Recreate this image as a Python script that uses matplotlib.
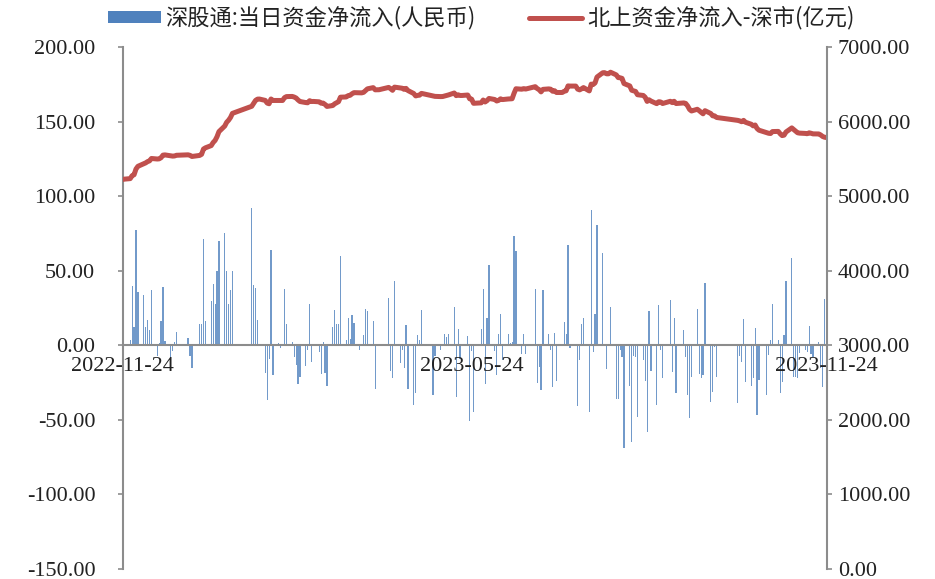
import numpy as np
import pandas as pd
import matplotlib
matplotlib.use('Agg')
import matplotlib.pyplot as plt
import matplotlib.dates as mdates
from matplotlib.patches import Patch
from matplotlib.lines import Line2D

# weekdays from 2022-11-24 to 2023-11-24, None = market closed
flow = [
    16, 1,
    3.8, 40, 12, 77, 36,
    34, 12, 17, 10, 37,
    -7, 1.5, 16, 39, 3,
    -12, -4, 2, 9, 1,
    None, None, 5, -7, -15,
    None, 14.5, 14.5, 71, 16,
    30, 41, 28, 50, 70,
    75, 50, 27.5, 37, 50,
    None, None, None, None, None,
    92, 40.7, 38.7, 17, 1,
    -18.5, -36.4, -9.4, 64, -20,
    1.3, -1.6, 0.5, 38, 14,
    2, -8, -13, -26, -21,
    -14, -3, 28, -11, 1,
    -4.7, -19, 2, -18.5, -27,
    12, 23.5, 14.5, 14.5, 60,
    3.4, 18, 4, 20.6, 14.8,
    -3.4, 0.5, 6.7, 24, 23,
    16.3, -29, None, 1, None,
    None, 31.5, -17, -21.7, 43,
    -12, -3, -15, 13.4, -29,
    -40, -32, 6.7, 3.4, 23.5,
    None, None, None, -33.5, -7.4,
    -3, 1, 7.4, 5.6, 7.8,
    25.7, -35, 11, -9, 0.5,
    6.5, -51, -4, -45, None,
    11, 38, -25.7, 18, 54,
    -4, -20, 7.8, 20.8, -10,
    7.8, 1.5, 2, 73, 63,
    -5.6, 7.8, -5.6, None, None,
    38, -25, -14.5, -30, 37,
    7.8, -3.4, -28, 8.3, -24,
    0.5, 15.6, 7.4, 67, -1.6,
    0.5, -41, -9.6, 14, 18.6,
    -45, 91, -4.5, 21, 80.5,
    62, 1, -16, 1, 26,
    -36, -36, -3, -8, -69,
    -27, -65, -7.4, -7.8, -48,
    -10, -24, -58, 23, -17,
    -40, 27, -3, -21.7, None,
    30.6, -18, 18, -32, None,
    10, -8, -33.5, -49, -21,
    24.6, -19, -21.7, -20, 41.8,
    -38, -31, -1, -21, None,
    None, None, None, None, None,
    -38.7, -7.4, -11, 17.7, -24.6,
    -27.5, -21.7, 11.8, -47, -23,
    None, -33.5, -6.7, 3.8, 27.5,
    3.8, -32, -24.6, 6.7, 43,
    58.8, -21, -21, -22, -5,
    -3, -4.5, 12.7, -5.6, -7.8,
    2.2, -15, -28, 31, -2,
]

north_cum = [
    5223, 5228,
    5235, 5275, 5287, 5364, 5400,
    5434, 5446, 5463, 5473, 5505,
    5498, 5500, 5516, 5550, 5553,
    5541, 5537, 5539, 5548, 5549,
    None, None, 5554, 5547, 5532,
    None, 5546, 5561, 5632, 5648,
    5678, 5719, 5747, 5797, 5865,
    5940, 5990, 6018, 6055, 6110,
    None, None, None, None, None,
    6205, 6245, 6284, 6301, 6302,
    6284, 6248, 6239, 6303, 6283,
    6284, 6283, 6283, 6321, 6335,
    6337, 6329, 6316, 6290, 6269,
    6255, 6252, 6280, 6269, 6270,
    6265, 6246, 6248, 6230, 6203,
    6215, 6238, 6253, 6267, 6327,
    6330, 6348, 6352, 6373, 6388,
    6385, 6385, 6392, 6416, 6439,
    6455, 6426, None, 6427, None,
    None, 6458, 6441, 6419, 6462,
    6450, 6447, 6432, 6445, 6416,
    6376, 6344, 6351, 6354, 6378,
    None, None, None, 6345, 6338,
    6335, 6336, 6343, 6349, 6357,
    6383, 6348, 6359, 6350, 6350,
    6356, 6305, 6301, 6245, None,
    6251, 6289, 6263, 6281, 6310,
    6296, 6276, 6284, 6305, 6295,
    6303, 6304, 6306, 6379, 6440,
    6434, 6442, 6436, None, None,
    6468, 6443, 6428, 6398, 6432,
    6438, 6434, 6406, 6414, 6390,
    6390, 6406, 6413, 6478, 6476,
    6476, 6435, 6425, 6439, 6456,
    6411, 6502, 6497, 6518, 6597,
    6655, 6656, 6640, 6641, 6662,
    6626, 6590, 6587, 6579, 6510,
    6478, 6420, 6412, 6404, 6360,
    6350, 6326, 6270, 6292, 6275,
    6240, 6266, 6263, 6242, None,
    6272, 6254, 6272, 6242, None,
    6250, 6243, 6210, 6163, 6142,
    6165, 6146, 6124, 6104, 6146,
    6108, 6077, 6076, 6055, None,
    None, None, None, None, None,
    6016, 6009, 5998, 6016, 5991,
    5964, 5942, 5954, 5907, 5884,
    None, 5850, 5843, 5840, 5866,
    5868, 5836, 5812, 5818, 5860,
    5915, 5893, 5872, 5850, 5845,
    5841, 5837, 5849, 5843, 5835,
    5834, 5820, 5800, 5790, 5786,
]

tick_dates = ['2022-11-24', '2023-05-24', '2023-11-24']
legend_labels = ['深股通:当日资金净流入(人民币)', '北上资金净流入-深市(亿元)']

BLUE = '#4F81BD'
RED = '#C0504D'
GRAY = '#8C8C8C'

days = pd.bdate_range('2022-11-24', '2023-11-24')
bars = pd.Series(flow, index=days, dtype=float).dropna()
line = pd.Series(north_cum, index=days, dtype=float).dropna()

fig = plt.figure(figsize=(9.35, 5.79), dpi=100)
ax = fig.add_axes([122.5 / 935, 1 - 569 / 579, 704 / 935, 522 / 579])
ax2 = ax.twinx()

ax.bar(bars.index, bars.values, width=0.6, color=BLUE, alpha=0.8, linewidth=0)
ax2.plot(line.index, line.values, color=RED, lw=3.6,
         solid_joinstyle='round', solid_capstyle='round')

ax.set_xlim(pd.Timestamp('2022-11-24'), pd.Timestamp('2023-11-24'))
ax.set_ylim(-150, 200)
ax2.set_ylim(0, 7000)
ax.set_yticks(np.arange(-150, 201, 50))
ax2.set_yticks(np.arange(0, 7001, 1000))
ax.yaxis.set_major_formatter(matplotlib.ticker.FormatStrFormatter('%.2f'))
ax2.yaxis.set_major_formatter(matplotlib.ticker.FormatStrFormatter('%.2f'))

ax.set_xticks([pd.Timestamp(d) for d in tick_dates])
ax.set_xticklabels(tick_dates)

for a in (ax, ax2):
    for s in a.spines.values():
        s.set_visible(False)
ax.spines['left'].set_visible(True)
ax.spines['left'].set_color(GRAY)
ax.spines['left'].set_linewidth(1.5)
ax2.spines['right'].set_visible(True)
ax2.spines['right'].set_color(GRAY)
ax2.spines['right'].set_linewidth(1.5)
ax.spines['bottom'].set_visible(True)
ax.spines['bottom'].set_position(('data', 0))
ax.spines['bottom'].set_color(GRAY)
ax.spines['bottom'].set_linewidth(1.5)

tick_font = dict(family='Liberation Serif', size=16)
ax.tick_params(axis='y', direction='out', length=3.6, width=1.2, color=GRAY, pad=16)
ax2.tick_params(axis='y', direction='out', length=3.6, width=1.2, color=GRAY, pad=4.5)
ax.tick_params(axis='x', length=0, pad=8.5)
for lab in ax.get_yticklabels() + ax2.get_yticklabels() + ax.get_xticklabels():
    lab.set_fontfamily('Liberation Serif')
    lab.set_fontsize(16)
    lab.set_color('#222222')

ax.set_zorder(1)
ax.patch.set_visible(False)
ax2.set_zorder(2)

handles = [Patch(facecolor=BLUE, edgecolor='none'),
           Line2D([], [], color=RED, lw=3.6, solid_capstyle='round')]
fig.legend(handles, legend_labels, loc='center', ncol=2,
           bbox_to_anchor=(481 / 935, 1 - 18 / 579), frameon=False,
           prop={'family': ['Noto Sans CJK SC', 'DejaVu Sans'], 'size': 16},
           handlelength=2.4, handleheight=0.45, handletextpad=0.2,
           columnspacing=2.4, borderpad=0, labelcolor='#222222')

fig.savefig('out.png', dpi=100)
